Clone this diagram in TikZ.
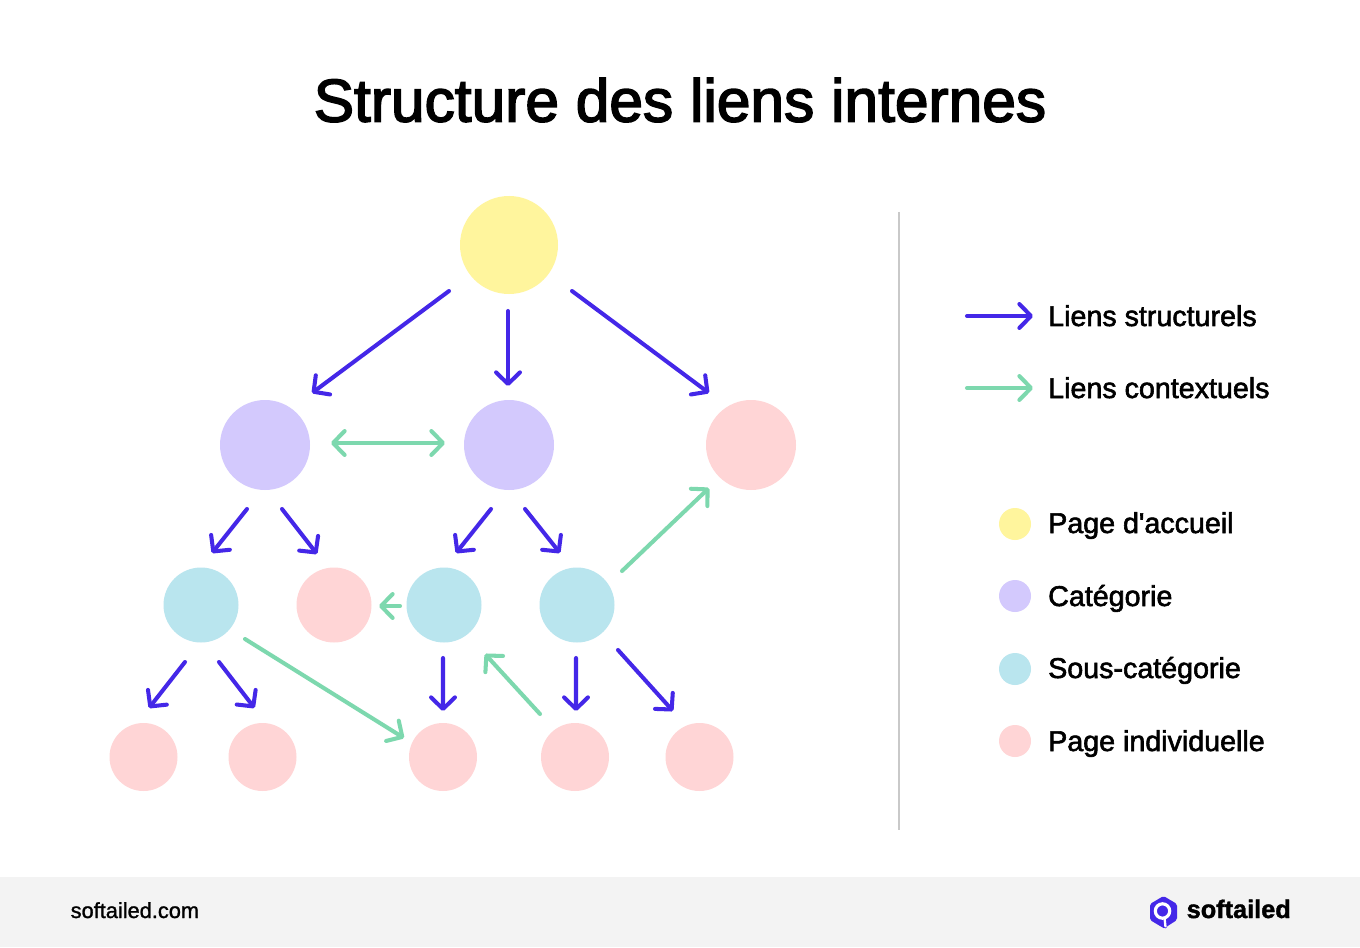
\documentclass[tikz,border=0pt]{standalone}
\usepackage{fontspec}
\setmainfont{Liberation Sans}
\newfontfamily\mediumfont{Liberation Sans}[FakeBold=2]
\newfontfamily\titlefont{Liberation Sans}[FakeBold=2.6]
\newfontfamily\sitefont{Liberation Sans}[FakeBold=1.2]
\newfontfamily\heavyfont{Liberation Sans Bold}[FakeBold=1.5]
\usetikzlibrary{arrows.meta, calc}
\definecolor{sfblue}{HTML}{4427E8}
\definecolor{sfgreen}{HTML}{7DD8AE}
\definecolor{sfyellow}{HTML}{FFF59D}
\definecolor{sfpurple}{HTML}{D3C9FD}
\definecolor{sfcyan}{HTML}{B9E5EE}
\definecolor{sfpink}{HTML}{FFD5D6}
\definecolor{sfgrey}{HTML}{F3F3F3}
\definecolor{sfrule}{HTML}{C9C9C9}

\begin{document}
\begin{tikzpicture}[
    barb/.tip={Straight Barb[length=3.3pt, width=6.8pt, round]},
    dot/.style={circle, inner sep=0pt},
    homedot/.style={dot, fill=sfyellow, minimum size=0.98cm},
    catdot/.style={dot, fill=sfpurple, minimum size=0.90cm},
    topdot/.style={dot, fill=sfpink, minimum size=0.90cm},
    subdot/.style={dot, fill=sfcyan, minimum size=0.75cm},
    leafdot/.style={dot, fill=sfpink, minimum size=0.75cm},
    pagedot/.style={dot, fill=sfpink, minimum size=0.68cm},
    keydot/.style={dot, minimum size=0.32cm},
    structlink/.style={draw=sfblue, line width=1.15pt, line cap=round, -barb},
    contextlink/.style={draw=sfgreen, line width=1.15pt, line cap=round, -barb},
    keylabel/.style={anchor=base west, inner sep=0pt, font=\fontsize{8.15}{9}\selectfont\mediumfont}]
    \fill[white] (0,0) rectangle (13.6,-9.47);
    \fill[sfgrey] (0,-8.77) rectangle (13.6,-9.47);
    \draw[sfrule, line width=0.5pt] (8.99,-2.12) -- (8.99,-8.30);
    \node[inner sep=0pt, font=\fontsize{17.2}{20}\selectfont\titlefont] (title) at (6.8,-1.0) {Structure des liens internes};

    % tree
    \node[homedot] (home) at (5.09,-2.45) {};
    \node[catdot] (catA) at (2.65,-4.45) {};
    \node[catdot] (catB) at (5.09,-4.45) {};
    \node[topdot] (pageTop) at (7.51,-4.45) {};
    \node[subdot] (subA) at (2.01,-6.05) {};
    \node[leafdot] (pageMid) at (3.34,-6.05) {};
    \node[subdot] (subB) at (4.44,-6.05) {};
    \node[subdot] (subC) at (5.77,-6.05) {};
    \node[pagedot] (pageA) at (1.435,-7.57) {};
    \node[pagedot] (pageB) at (2.625,-7.57) {};
    \node[pagedot] (pageC) at (4.43,-7.57) {};
    \node[pagedot] (pageD) at (5.75,-7.57) {};
    \node[pagedot] (pageE) at (6.995,-7.57) {};

    \draw[structlink] ($(home)+(-0.60,-0.46)$) -- ($(catA)+(0.47,0.52)$);
    \draw[structlink] ($(home)+(-0.01,-0.66)$) -- ($(catB)+(-0.01,0.59)$);
    \draw[structlink] ($(home)+(0.63,-0.46)$) -- ($(pageTop)+(-0.42,0.52)$);
    \draw[structlink] ($(catA)+(-0.18,-0.64)$) -- ($(subA)+(0.11,0.52)$);
    \draw[structlink] ($(catA)+(0.17,-0.64)$) -- ($(pageMid)+(-0.17,0.51)$);
    \draw[structlink] ($(catB)+(-0.18,-0.64)$) -- ($(subB)+(0.12,0.52)$);
    \draw[structlink] ($(catB)+(0.16,-0.64)$) -- ($(subC)+(-0.17,0.52)$);
    \draw[structlink] ($(subA)+(-0.16,-0.57)$) -- ($(pageA)+(0.055,0.49)$);
    \draw[structlink] ($(subA)+(0.18,-0.57)$) -- ($(pageB)+(-0.08,0.49)$);
    \draw[structlink] ($(subB)+(-0.01,-0.53)$) -- ($(pageC)+(0,0.46)$);
    \draw[structlink] ($(subC)+(-0.01,-0.53)$) -- ($(pageD)+(0.01,0.46)$);
    \draw[structlink] ($(subC)+(0.41,-0.45)$) -- ($(pageE)+(-0.265,0.46)$);

    \draw[contextlink, barb-barb] ($(catA)+(0.66,0.02)$) -- ($(catB)+(-0.64,0.02)$);
    \draw[contextlink] ($(subC)+(0.45,0.34)$) -- ($(pageTop)+(-0.42,-0.43)$);
    \draw[contextlink] ($(subB)+(-0.44,-0.01)$) -- ($(pageMid)+(0.45,-0.01)$);
    \draw[contextlink] ($(subA)+(0.44,-0.34)$) -- ($(pageC)+(-0.39,0.19)$);
    \draw[contextlink] ($(pageD)+(-0.35,0.43)$) -- ($(subB)+(0.41,-0.49)$);

    % legend
    \coordinate (keyA) at (9.67,-3.16);
    \coordinate (keyAend) at (10.33,-3.16);
    \coordinate (keyB) at (9.67,-3.88);
    \coordinate (keyBend) at (10.33,-3.88);
    \draw[structlink] (keyA) -- (keyAend);
    \draw[contextlink] (keyB) -- (keyBend);
    \node[keylabel] (labelA) at (10.475,-3.26) {Liens structurels};
    \node[keylabel] (labelB) at (10.475,-3.98) {Liens contextuels};

    \node[keydot, fill=sfyellow] (keyHome) at (10.15,-5.24) {};
    \node[keydot, fill=sfpurple] (keyCat) at (10.15,-5.96) {};
    \node[keydot, fill=sfcyan] (keySub) at (10.15,-6.69) {};
    \node[keydot, fill=sfpink] (keyPage) at (10.15,-7.41) {};
    \node[keylabel] (labelHome) at (10.475,-5.33) {Page d\textquotesingle accueil};
    \node[keylabel] (labelCat) at (10.475,-6.06) {Catégorie};
    \node[keylabel] (labelSub) at (10.475,-6.78) {Sous-catégorie};
    \node[keylabel] (labelPage) at (10.475,-7.51) {Page individuelle};

    % footer
    \node[anchor=base west, inner sep=0pt, font=\fontsize{6.2}{7}\selectfont\sitefont] (site) at (0.70,-9.18) {softailed.com};
    \fill[sfblue, rounded corners=0.5pt] (11.635,-8.96) -- (11.77,-9.04) -- (11.77,-9.2) -- (11.66,-9.27) -- (11.655,-9.29) -- (11.60,-9.26) -- (11.50,-9.2) -- (11.50,-9.04) -- cycle;
    \draw[white, line width=0.9pt] (11.625,-9.11) circle (0.072);
    \draw[white, line width=0.65pt] (11.645,-9.18) -- (11.655,-9.27);
    \node[anchor=base west, inner sep=0pt, font=\fontsize{7.2}{9}\selectfont\heavyfont] (brand) at (11.86,-9.18) {softailed};
  \end{tikzpicture}
\end{document}
